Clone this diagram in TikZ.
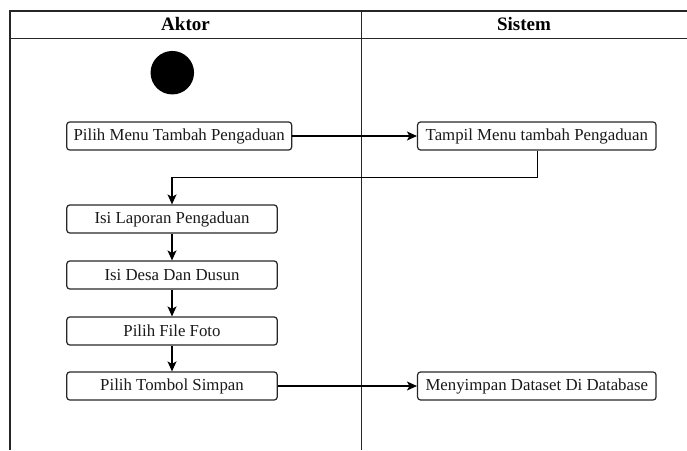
\documentclass[tikz,border=0pt]{standalone}
\usepackage{fontspec}
\setmainfont{Liberation Serif}
\usetikzlibrary{arrows.meta}
\begin{document}
\begin{tikzpicture}[x=1pt,y=-1pt,
  act/.style={draw=black!85, line width=1.2pt, rounded corners=3pt, minimum height=28pt, inner sep=0pt, font=\fontsize{16.8}{18}\selectfont, text=black!90},
  lane/.style={draw=black!85, line width=1.2pt},
  flow/.style={draw=black, line width=1.2pt, -{Stealth[length=10pt,width=9pt,inset=2.5pt]}},
  hdr/.style={font=\fontsize{19}{21}\selectfont\bfseries, inner sep=0pt}]
\useasboundingbox (0,0) rectangle (687,450);
% swimlanes
\draw[lane] (687,11) -- (10,11) -- (10,450);
\draw[lane] (10,38.5) -- (687,38.5);
\draw[lane] (361.5,11) -- (361.5,450);
\node[hdr] (haktor) at (185.5,24.5) {Aktor};
\node[hdr] (hsistem) at (524,24.5) {Sistem};
% start
\node[circle, fill=black, minimum size=43.5pt, inner sep=0pt] (start) at (172.3,72.7) {};
% actions
\node[act, minimum width=225pt] (pilihmenu) at (179.2,136) {Pilih Menu Tambah Pengaduan};
\node[act, minimum width=238.5pt] (tampil) at (536.8,136) {Tampil Menu tambah Pengaduan};
\node[act, minimum width=210.5pt] (isilap) at (172,219) {Isi Laporan Pengaduan};
\node[act, minimum width=210.5pt] (isidesa) at (172,275) {Isi Desa Dan Dusun};
\node[act, minimum width=210.5pt] (foto) at (172,331) {Pilih File Foto};
\node[act, minimum width=210.5pt] (simpan) at (172,386) {Pilih Tombol Simpan};
\node[act, minimum width=238.5pt] (menyimpan) at (536.8,386) {Menyimpan Dataset Di Database};
% flows
\draw[flow] (pilihmenu) -- (tampil);
\draw[flow] (tampil.south -| 537.7,0) |- (172,177.7) -- (isilap.north);
\draw[flow] (isilap) -- (isidesa);
\draw[flow] (isidesa) -- (foto);
\draw[flow] (foto) -- (simpan);
\draw[flow] (simpan) -- (menyimpan);
\end{tikzpicture}
\end{document}
